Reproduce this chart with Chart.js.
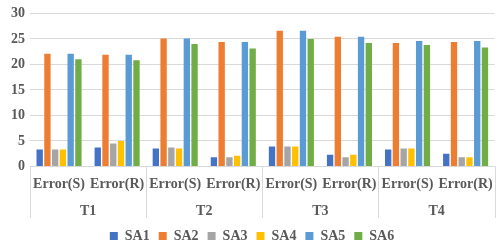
<!DOCTYPE html>
<html>
<head>
<meta charset="utf-8">
<script src="https://cdn.jsdelivr.net/npm/chart.js@4"></script>
<style>
html,body{margin:0;padding:0;background:#fff;}
#wrap{width:503px;height:250px;position:relative;}
</style>
</head>
<body>
<div id="wrap"><canvas id="c"></canvas></div>
<script>
const categories = ['Error(S)','Error(R)','Error(S)','Error(R)','Error(S)','Error(R)','Error(S)','Error(R)'];
const groups = ['T1','T2','T3','T4'];
const seriesNames = ['SA1','SA2','SA3','SA4','SA5','SA6'];
const SA1 = [3.3, 3.7, 3.5, 1.8, 3.9, 2.3, 3.3, 2.5];
const SA2 = [22.1, 21.9, 25.1, 24.4, 26.6, 25.4, 24.2, 24.4];
const SA3 = [3.3, 4.5, 3.7, 1.8, 3.9, 1.8, 3.5, 1.8];
const SA4 = [3.3, 5.0, 3.5, 2.1, 3.9, 2.3, 3.5, 1.8];
const SA5 = [22.1, 21.9, 25.1, 24.4, 26.6, 25.4, 24.6, 24.6];
const SA6 = [21.0, 20.8, 24.0, 23.1, 25.0, 24.2, 23.8, 23.3];
const yTicks = [0, 5, 10, 15, 20, 25, 30];

const colors = ['#4472C4','#ED7D31','#A5A5A5','#FFC000','#5B9BD5','#70AD47'];
const values = [SA1, SA2, SA3, SA4, SA5, SA6];
const textColor = '#595959';
const gridColor = '#d9d9d9';
const font = {family: '"Liberation Serif", "Times New Roman", serif', size: 14, weight: 'bold'};

const separators = {
  id: 'separators',
  afterDraw(chart) {
    const x = chart.scales.x, x2 = chart.scales.x2;
    const ctx = chart.ctx;
    ctx.save();
    ctx.strokeStyle = gridColor;
    ctx.lineWidth = 1;
    const per = categories.length / groups.length;
    const step = x.getPixelForValue(1) - x.getPixelForValue(0);
    for (let g = 0; g <= groups.length; g++) {
      const idx = g * per;
      let px;
      if (idx < categories.length) {
        px = x.getPixelForValue(idx) - step / 2;
      } else {
        px = x.getPixelForValue(idx - 1) + step / 2;
      }
      px = Math.round(px) + 0.5;
      ctx.beginPath();
      ctx.moveTo(px, chart.chartArea.bottom);
      ctx.lineTo(px, x2.bottom - 2);
      ctx.stroke();
    }
    ctx.restore();
  }
};

new Chart(document.getElementById('c'), {
  type: 'bar',
  data: {
    labels: categories,
    datasets: seriesNames.map((n, i) => ({
      label: n,
      data: values[i],
      backgroundColor: colors[i],
      borderWidth: 0,
      categoryPercentage: 0.8,
      barPercentage: 0.82,
      xAxisID: 'x'
    }))
  },
  options: {
    responsive: true,
    maintainAspectRatio: false,
    animation: false,
    layout: {padding: {top: 0, right: 5, left: 6, bottom: 0}},
    plugins: {
      legend: {
        position: 'bottom',
        maxHeight: 30,
        labels: {
          boxWidth: 8, boxHeight: 8, padding: 9,
          color: textColor, font: font
        }
      },
      tooltip: {enabled: false}
    },
    scales: {
      y: {
        min: 0, max: 30,
        afterBuildTicks: (s) => { s.ticks = yTicks.map(v => ({value: v})); },
        ticks: {color: textColor, font: font, padding: 5},
        grid: {color: gridColor, drawTicks: false},
        border: {display: false}
      },
      x: {
        position: 'bottom',
        ticks: {color: textColor, font: font, maxRotation: 0, autoSkip: false, padding: 10},
        grid: {display: false, drawTicks: false},
        border: {display: true, color: gridColor}
      },
      x2: {
        type: 'category',
        labels: groups,
        position: 'bottom',
        offset: true,
        ticks: {color: textColor, font: font, maxRotation: 0, padding: 0},
        grid: {display: false, drawTicks: false},
        border: {display: false}
      }
    }
  },
  plugins: [separators]
});
</script>
</body>
</html>
